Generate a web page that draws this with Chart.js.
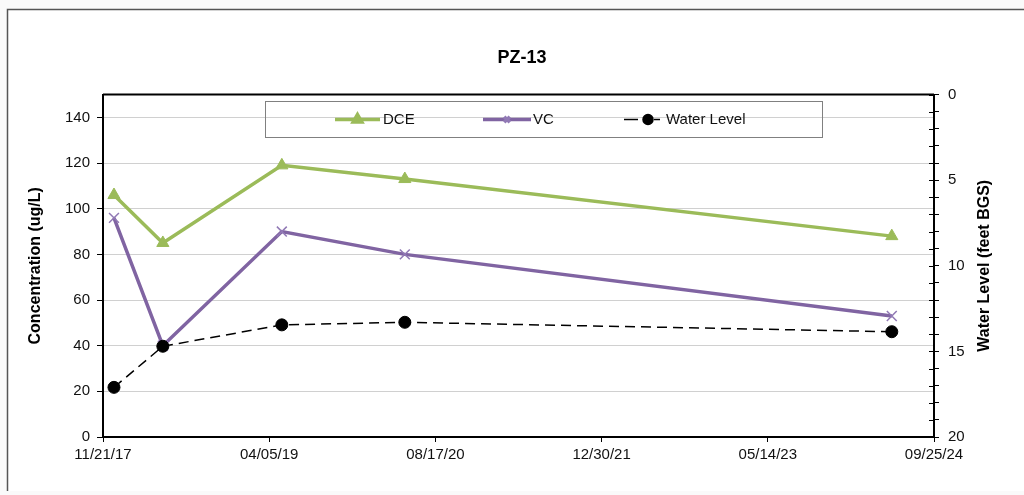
<!DOCTYPE html>
<html>
<head>
<meta charset="utf-8">
<script src="https://cdn.jsdelivr.net/npm/chart.js@4.4.0/dist/chart.umd.min.js"></script>
<style>
body { margin: 0; background: #fafafa; }
#wrap { width: 1024px; height: 495px; }
</style>
</head>
<body>
<div id="wrap"><canvas id="myChart"></canvas></div>
<script>
// sample data
const sampleDates = ['2017-12-24', '2018-05-20', '2019-05-13', '2020-05-17', '2024-05-21'];
const dce = [106, 85, 119, 113, 88];
const vc = [96, 40, 90, 80, 53];
const waterLevel = [17.1, 14.7, 13.45, 13.3, 13.85];
const xTickLabels = ['11/21/17', '04/05/19', '08/17/20', '12/30/21', '05/14/23', '09/25/24'];
const startDate = '2017-11-21';

const FONT = "'Liberation Sans', Arial, sans-serif";

const dayOf = (d) => (Date.parse(d) - Date.parse(startDate)) / 86400000;
const toPoints = (vals) => vals.map((v, i) => ({ x: dayOf(sampleDates[i]), y: v }));

const extras = {
    id: 'extras',
    beforeDraw(chart) {
        const c = chart.ctx;
        c.save();
        c.fillStyle = '#fafafa';
        c.fillRect(0, 0, chart.width, chart.height);
        c.fillStyle = '#fff';
        c.fillRect(7, 9, chart.width - 7, 482);
        c.strokeStyle = '#555';
        c.lineWidth = 1.5;
        c.beginPath();
        c.moveTo(7.5, 491);
        c.lineTo(7.5, 9.5);
        c.lineTo(chart.width, 9.5);
        c.stroke();
        c.restore();
    },
    afterDraw(chart) {
        const c = chart.ctx;
        const area = chart.chartArea;
        c.save();
        // top edge of plot box
        c.strokeStyle = '#000';
        c.lineWidth = 2;
        c.beginPath();
        c.moveTo(area.left, area.top);
        c.lineTo(area.right, area.top);
        c.stroke();

        // inner half of the right axis ticks
        const s = chart.scales.y2;
        c.lineWidth = 1;
        s.ticks.forEach(t => {
            const y = Math.round(s.getPixelForValue(t.value)) + 0.5;
            c.beginPath();
            c.moveTo(s.left - 5, y);
            c.lineTo(s.left, y);
            c.stroke();
        });

        // right axis title, reading upwards
        c.translate(985, (area.top + area.bottom) / 2);
        c.rotate(-Math.PI / 2);
        c.fillStyle = '#000';
        c.font = 'bold 16px ' + FONT;
        c.textAlign = 'center';
        c.textBaseline = 'middle';
        c.fillText('Water Level (feet BGS)', 0, 0);
        c.setTransform(1, 0, 0, 1, 0, 0);

        // legend box inside the plot
        c.strokeStyle = '#808080';
        c.lineWidth = 1;
        c.strokeRect(265.5, 101.5, 557, 36);
        const ly = 119.5;
        const items = [
            { ds: 0, x0: 335, x1: 380, tx: 383, r: 5 },
            { ds: 1, x0: 483, x1: 531, tx: 533, r: 4 },
            { ds: 2, x0: 624, x1: 660, tx: 666, r: 5 }
        ];
        items.forEach(it => {
            const d = chart.data.datasets[it.ds];
            const mid = (it.x0 + it.x1) / 2;
            c.strokeStyle = d.borderColor;
            c.lineWidth = d.borderWidth;
            c.beginPath();
            if (d.borderDash) {
                c.moveTo(it.x0, ly); c.lineTo(it.x0 + 14, ly);
                c.moveTo(it.x1 - 6, ly); c.lineTo(it.x1, ly);
            } else {
                c.moveTo(it.x0, ly); c.lineTo(it.x1, ly);
            }
            c.stroke();
            c.fillStyle = d.pointBackgroundColor;
            c.strokeStyle = d.pointBorderColor;
            Chart.helpers.drawPoint(c, {
                pointStyle: d.pointStyle,
                radius: it.r,
                rotation: 0,
                borderWidth: d.pointBorderWidth
            }, d.borderDash ? 648 : mid, ly);
            c.fillStyle = '#111';
            c.font = '15px ' + FONT;
            c.textAlign = 'left';
            c.textBaseline = 'middle';
            c.fillText(d.label, it.tx, ly);
        });
        c.restore();
    }
};

const data = {
    datasets: [
        {
            label: 'DCE',
            data: toPoints(dce),
            yAxisID: 'y',
            borderColor: '#9BBB59',
            backgroundColor: '#9BBB59',
            borderWidth: 3.5,
            pointStyle: 'triangle',
            pointRadius: 7,
            pointBackgroundColor: '#9BBB59',
            pointBorderColor: '#9BBB59',
            pointBorderWidth: 1,
            order: 1
        },
        {
            label: 'VC',
            data: toPoints(vc),
            yAxisID: 'y',
            borderColor: '#8064A2',
            backgroundColor: '#8064A2',
            borderWidth: 3.5,
            pointStyle: 'crossRot',
            pointRadius: 7,
            pointBackgroundColor: '#9179B5',
            pointBorderColor: '#9179B5',
            pointBorderWidth: 1.5,
            order: 2
        },
        {
            label: 'Water Level',
            data: toPoints(waterLevel),
            yAxisID: 'y2',
            borderColor: '#000',
            backgroundColor: '#000',
            borderWidth: 1.5,
            borderDash: [10, 6],
            pointStyle: 'circle',
            pointRadius: 6,
            pointBackgroundColor: '#000',
            pointBorderColor: '#000',
            pointBorderWidth: 1,
            order: 0
        }
    ]
};

const config = {
    type: 'line',
    data: data,
    options: {
        responsive: true,
        maintainAspectRatio: false,
        animation: false,
        layout: { padding: { left: 20, right: 0, top: 0, bottom: 0 } },
        plugins: {
            legend: { display: false },
            tooltip: { enabled: false },
            title: {
                display: true,
                text: 'PZ-13',
                color: '#000',
                font: { family: FONT, size: 18, weight: 'bold' },
                padding: { top: 47, bottom: 26 }
            }
        },
        scales: {
            x: {
                type: 'linear',
                min: 0,
                max: 2500,
                ticks: {
                    stepSize: 500,
                    autoSkip: false,
                    maxRotation: 0,
                    color: '#111',
                    font: { family: FONT, size: 15 },
                    padding: 4,
                    callback: (v, i) => xTickLabels[i]
                },
                grid: { drawOnChartArea: false, tickLength: 5, tickColor: '#000' },
                border: { color: '#000', width: 2 },
                afterFit: (s) => { s.height = 58; }
            },
            y: {
                position: 'left',
                min: 0,
                max: 150,
                ticks: {
                    stepSize: 20,
                    color: '#111',
                    font: { family: FONT, size: 15 },
                    padding: 7,
                    callback: (v) => (v > 140 ? null : v)
                },
                grid: { color: '#d0d0d0', tickColor: '#000', tickLength: 6 },
                border: { color: '#000', width: 2 },
                title: {
                    display: true,
                    text: 'Concentration (ug/L)',
                    color: '#000',
                    font: { family: FONT, size: 16, weight: 'bold' },
                    padding: { top: 6, bottom: 0 }
                },
                afterFit: (s) => { s.width = 83; }
            },
            y2: {
                position: 'right',
                reverse: true,
                min: 0,
                max: 20,
                ticks: {
                    stepSize: 1,
                    autoSkip: false,
                    color: '#111',
                    font: { family: FONT, size: 15 },
                    padding: 9,
                    callback: (v) => (v % 5 === 0 ? v : '')
                },
                grid: { drawOnChartArea: false, tickLength: 5, tickColor: '#000' },
                border: { color: '#000', width: 2 },
                afterFit: (s) => { s.width = 90; }
            }
        }
    },
    plugins: [extras]
};

const myChart = new Chart(document.getElementById('myChart'), config);
</script>
</body>
</html>
